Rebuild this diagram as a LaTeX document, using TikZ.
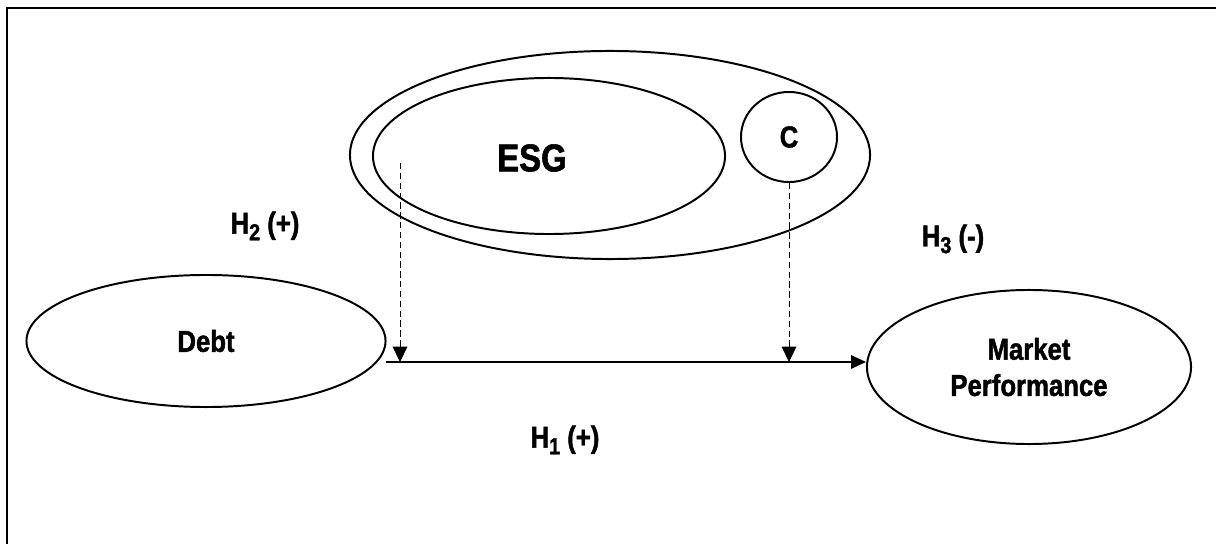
\documentclass[tikz,border=0pt]{standalone}
\usepackage{fontspec}
\setmainfont{Liberation Sans}[FakeStretch=0.85, BoldFeatures={FakeBold=1.5}]
\usepackage{tikz}
\usetikzlibrary{shapes.geometric, arrows.meta, calc}
\newcommand\hsub[1]{\raisebox{-0.22em}{\fontsize{16.5}{16.5}\selectfont #1}}

\begin{document}
\begin{tikzpicture}[x=0.025cm, y=-0.025cm, >={Triangle[length=10.5pt, width=9.5pt]},
  oval/.style={ellipse, draw, line width=1.4pt, inner sep=0pt, align=center,
    font=\fontsize{21.5}{25.8}\selectfont\bfseries},
  hyp/.style={font=\fontsize{21.5}{25.8}\selectfont\bfseries}]
  \useasboundingbox (0,0) rectangle (1216,544);
  \draw[line width=1.8pt] (7,8) rectangle (1240,570);

  % moderator block
  \node[oval, minimum width=13cm, minimum height=5.2cm] (mod) at (610,155) {};
  \node[oval, minimum width=8.8cm, minimum height=3.9cm] (esg) at (549,156) {};
  \node[font=\fontsize{27.5}{30}\selectfont\bfseries] (esg-txt) at (532,158) {ESG};
  \node[oval, minimum width=2.4cm, minimum height=2.25cm] (c) at (789,137) {C};

  % main variables
  \node[oval, minimum width=8.975cm, minimum height=3.3cm] (debt) at (206,341) {Debt};
  \node[oval, minimum width=8.1cm, minimum height=3.85cm] (mp) at (1029,367) {Market\\Performance};

  \node[hyp] (h2) at (265,226) {H\hsub{2} (+)};
  \node[hyp] (h3) at (953,239) {H\hsub{3} (-)};
  \node[hyp] (h1) at (565,440) {H\hsub{1} (+)};

  \coordinate (d0) at (386,362);
  \coordinate (esg-in) at (400,163);
  \draw[line width=0.9pt, ->] (d0) -- (d0 -| mp.west);
  \draw[line width=0.7pt, dash pattern=on 4.5pt off 2.5pt, -{Triangle[length=11pt, width=10.5pt]}] (esg-in) -- (esg-in |- d0);
  \draw[line width=0.7pt, dash pattern=on 4.5pt off 2.5pt, -{Triangle[length=11pt, width=10.5pt]}] (c.south) -- (c.south |- d0);
\end{tikzpicture}
\end{document}
